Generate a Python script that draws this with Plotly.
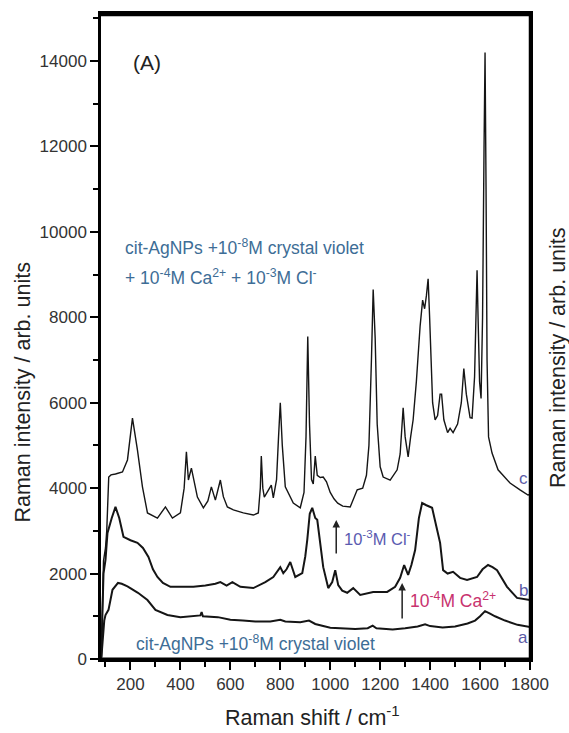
import plotly.graph_objects as go

# ---------------- data ----------------
a_x = [83, 90, 95, 100, 112, 128, 150, 165, 188, 230, 268, 300, 348, 400, 440, 480, 485, 490,
       550, 600, 650, 700, 760, 800, 820, 880, 915, 940, 1000, 1050, 1100, 1150, 1170, 1185,
       1250, 1300, 1350, 1380, 1400, 1450, 1500, 1550, 1580, 1600, 1620, 1640, 1660, 1700, 1750, 1800]
a_y = [0, 600, 900, 1030, 1150, 1620, 1780, 1760, 1700, 1550, 1380, 1150, 1030, 980, 1000, 1020, 1100, 1000,
       980, 920, 900, 880, 880, 920, 880, 860, 900, 820, 730, 720, 700, 720, 780, 720,
       690, 720, 760, 810, 770, 740, 760, 830, 900, 1000, 1120, 1060, 1000, 900, 800, 750]

b_x = [83, 88, 92, 100, 108, 125, 140, 155, 172, 200, 228, 250, 272, 290, 308, 330, 360, 400, 452,
       500, 540, 560, 585, 608, 640, 692, 740, 772, 790, 800, 812, 825, 840, 860, 888, 900, 908,
       918, 928, 940, 948, 960, 972, 992, 1008, 1020, 1032, 1048, 1068, 1092, 1120, 1172, 1228,
       1260, 1280, 1296, 1312, 1325, 1340, 1355, 1368, 1385, 1408, 1425, 1440, 1452, 1470, 1492,
       1520, 1548, 1588, 1610, 1632, 1650, 1668, 1708, 1748, 1800]
b_y = [50, 1200, 2000, 2320, 2950, 3300, 3560, 3300, 2860, 2780, 2720, 2600, 2390, 2100, 1920, 1780, 1690, 1690, 1690,
       1720, 1760, 1800, 1720, 1800, 1690, 1660, 1800, 1920, 2050, 2150, 2010, 2100, 2270, 1920, 2010, 2400, 2790,
       3400, 3540, 3300, 3260, 2700, 2150, 1660, 1800, 2080, 1730, 1600, 1550, 1660, 1500, 1570, 1570,
       1690, 1900, 2200, 1970, 2200, 2550, 3300, 3650, 3600, 3540, 3100, 2720, 2080, 2000, 2040,
       1900, 1850, 1920, 2100, 2200, 2150, 2080, 1690, 1430, 1380]

c_x = [83, 88, 92, 100, 105, 113, 122, 140, 168, 188, 208, 228, 248, 268, 308, 340, 368, 400, 415,
       424, 432, 444, 456, 468, 492, 510, 524, 540, 560, 572, 588, 612, 652, 692, 712, 720, 724,
       730, 736, 752, 764, 772, 785, 793, 800, 808, 820, 852, 880, 895, 903, 910, 917, 925, 932,
       940, 948, 960, 972, 985, 1000, 1015, 1030, 1050, 1080, 1108, 1130, 1145, 1155, 1165, 1172,
       1180, 1188, 1200, 1212, 1240, 1268, 1280, 1292, 1300, 1312, 1322, 1332, 1345, 1360, 1370,
       1378, 1385, 1392, 1398, 1410, 1420, 1430, 1440, 1446, 1455, 1470, 1480, 1492, 1510, 1525,
       1535, 1545, 1560, 1568, 1578, 1584, 1588, 1592, 1598, 1604, 1610, 1616, 1620, 1624, 1628,
       1634, 1648, 1672, 1720, 1760, 1792, 1800]
c_y = [0, 1500, 2300, 2600, 3000, 4260, 4310, 4330, 4380, 4660, 5640, 4890, 4030, 3420, 3300, 3560, 3300, 3420, 4000,
       4850, 4190, 4470, 4100, 3790, 3540, 3700, 4030, 3720, 4190, 3800, 3560, 3490, 3420, 3370, 3420, 4000, 4750,
       4000, 3790, 3960, 4070, 3770, 4200, 5200, 6000, 5000, 4030, 3650, 3540, 3900, 5200, 7550, 5500, 4200, 4100,
       4750, 4300, 4250, 4260, 4150, 3900, 3750, 3650, 3580, 3560, 3960, 4000, 4300, 5000, 7000, 8650,
       7500, 5500, 4500, 4260, 4190, 4430, 4800, 5880, 5200, 4730, 5200, 5600, 6500, 7800, 8400,
       8200, 8500, 8900, 8000, 6000, 5600, 5700, 6200, 6200, 5600, 5300, 5400, 5300, 5500, 6000,
       6800, 6200, 5650, 5640, 6600, 8500, 9100, 8000, 6500, 6100, 8000, 12000, 14200, 11000, 7000,
       5200, 4820, 4430, 4120, 3960, 3840, 3850]

x_ticks = [200, 400, 600, 800, 1000, 1200, 1400, 1600, 1800]
y_ticks = [0, 2000, 4000, 6000, 8000, 10000, 12000, 14000]

# ---------------- layout helpers ----------------
L, R, T, B = 100.5, 530, 14, 659
W, H = 569, 733


def px(xp):
    return (xp - L) / (R - L)


def py(yp):
    return (B - yp) / (B - T)


FONT = "Liberation Sans, Arial, sans-serif"

fig = go.Figure()
for xs, ys, w in [(a_x, a_y, 2), (b_x, b_y, 2), (c_x, c_y, 1.4)]:
    fig.add_trace(go.Scatter(x=xs, y=ys, mode="lines",
                             line=dict(color="#151515", width=w), showlegend=False,
                             hoverinfo="skip"))

axis_common = dict(showline=True, linecolor="#000000", linewidth=2.5, mirror=True,
                   ticks="outside", tickcolor="#000000", tickwidth=2, ticklen=8,
                   showgrid=False, zeroline=False,
                   tickfont=dict(family=FONT, size=17, color="#333333"))

fig.update_layout(
    width=W, height=H,
    margin=dict(l=L, r=W - R, t=T, b=H - B),
    paper_bgcolor="white", plot_bgcolor="white",
    xaxis=dict(range=[82, 1800], tickvals=x_ticks, ticktext=[str(v) for v in x_ticks],
               minor=dict(dtick=100, tick0=0, ticks="outside", ticklen=5, tickwidth=1.5, tickcolor="#000000"),
               **axis_common),
    yaxis=dict(range=[0, 15100], tickvals=y_ticks, ticktext=[str(v) for v in y_ticks],
               minor=dict(dtick=1000, tick0=0, ticks="outside", ticklen=5, tickwidth=1.5, tickcolor="#000000"),
               **axis_common),
)

# explicit frame: filled thin bars for top and bottom, line for right
fig.add_shape(type="rect", xref="paper", yref="paper", x0=-0.003, x1=1.003, y0=0.9965, y1=1.0015,
              line=dict(width=0), fillcolor="#000000", layer="above")
fig.add_shape(type="rect", xref="paper", yref="paper", x0=-0.003, x1=1.003, y0=-0.0015, y1=0.0025,
              line=dict(width=0), fillcolor="#000000", layer="above")
fig.add_shape(type="line", xref="paper", yref="paper", x0=1, x1=1, y0=0, y1=1,
              line=dict(color="#000000", width=2.5), layer="above")

ann = []


def add_text(text, xp, yp, size, color, xanchor="left", angle=0):
    ann.append(dict(text=text, x=px(xp), y=py(yp), xref="paper", yref="paper",
                    xanchor=xanchor, yanchor="middle", showarrow=False, textangle=angle,
                    font=dict(family=FONT, size=size, color=color)))


BLUE = "#3d6d96"
add_text("(A)", 147, 62, 21, "#222222", xanchor="center")
add_text("cit-AgNPs +10<sup>-8</sup>M crystal violet", 123, 247, 17.5, BLUE)
add_text("+ 10<sup>-4</sup>M Ca<sup>2+</sup> + 10<sup>-3</sup>M Cl<sup>-</sup>", 123, 277, 17.5, BLUE)
add_text("cit-AgNPs +10<sup>-8</sup>M crystal violet", 134, 643, 17.5, BLUE)
add_text("10<sup>-3</sup>M Cl<sup>-</sup>", 342, 538, 16.5, "#5a5ab0")
add_text("10<sup>-4</sup>M Ca<sup>2+</sup>", 408, 600, 17.5, "#c8326e")
add_text("c", 523, 478, 17, "#5c5ca8", xanchor="center")
add_text("b", 523, 590, 17, "#5c5ca8", xanchor="center")
add_text("a", 523, 637, 17, "#5c5ca8", xanchor="center")

# axis titles
add_text("Raman intensity / arb. units", 22, 392, 21.5, "#222222", xanchor="center", angle=-90)
add_text("Raman intensity / arb. units", 558, 357, 21.5, "#222222", xanchor="center", angle=-90)
add_text("Raman shift / cm<sup>-1</sup>", 312, 716, 21.5, "#222222", xanchor="center")

# arrows
for xa, ytail, yhead in [(336, 555, 520), (402, 620, 583)]:
    ann.append(dict(x=px(xa), y=py(yhead), xref="paper", yref="paper",
                    ax=0, ay=ytail - yhead, axref="pixel", ayref="pixel",
                    showarrow=True, arrowhead=2, arrowsize=1, arrowwidth=1.5,
                    arrowcolor="#222222", text=""))

fig.update_layout(annotations=ann)
fig.write_html("out.html")
